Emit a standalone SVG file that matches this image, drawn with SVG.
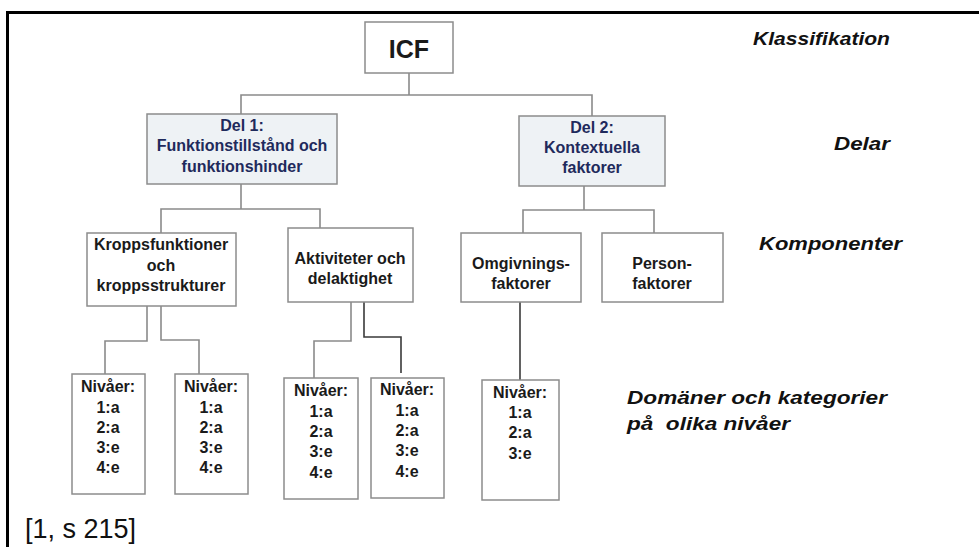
<svg xmlns="http://www.w3.org/2000/svg" width="979" height="547" viewBox="0 0 979 547">
<style>
.box{fill:#ffffff;stroke:#8c8c8c;stroke-width:1.5}
.del{fill:#eef2f5;stroke:#8c8c8c;stroke-width:1.5}
.t{font-family:"Liberation Sans",Arial,sans-serif;font-weight:bold;fill:#1a1a1a;text-anchor:middle}
.d{font-family:"Liberation Sans",Arial,sans-serif;font-weight:bold;fill:#1f2a5c;text-anchor:middle;font-size:16px}
.c{font-size:16px}
.n{font-size:16px}
.lab{font-family:"Liberation Sans",Arial,sans-serif;font-weight:bold;font-style:italic;fill:#111;font-size:19px;white-space:pre}
.ln{fill:none;stroke:#8a8a8a;stroke-width:1.6}
.dk{fill:none;stroke:#3a3a3a;stroke-width:1.6}
</style>
<rect width="979" height="547" fill="#ffffff"/>
<g id="frame">
<line x1="6" y1="12.5" x2="979" y2="12.5" stroke="#000" stroke-width="3"/>
<line x1="7.5" y1="11" x2="7.5" y2="547" stroke="#000" stroke-width="3"/>
</g>
<g id="connectors">
<polyline class="ln" points="409,73 409,95"/>
<polyline class="ln" points="241,114 241,95 592,95 592,116"/>
<polyline class="ln" points="241,184 241,209"/>
<polyline class="ln" points="161,233 161,209 320,209 320,228"/>
<polyline class="ln" points="584,186 584,210"/>
<polyline class="ln" points="523,233 523,210 654,210 654,233"/>
<polyline class="ln" points="147,306 147,341 105,341 105,374"/>
<polyline class="ln" points="161,306 161,340 199,340 199,374"/>
<polyline class="ln" points="351,302 351,341 314,341 314,378"/>
<polyline class="dk" points="364,302 364,337 401,337 401,373"/>
<polyline class="dk" points="520,302 520,380"/>
</g>
<g id="icf">
<rect class="box" x="365" y="22" width="88" height="51"/>
<text class="t" x="409" y="58" font-size="25">ICF</text>
</g>
<g id="del1">
<rect class="del" x="147" y="114" width="190" height="70"/>
<text class="d" x="242" y="131">Del 1:</text>
<text class="d" x="242" y="151">Funktionstillstånd och</text>
<text class="d" x="242" y="172">funktionshinder</text>
</g>
<g id="del2">
<rect class="del" x="519" y="116" width="146" height="70"/>
<text class="d" x="592" y="133">Del 2:</text>
<text class="d" x="592" y="153">Kontextuella</text>
<text class="d" x="592" y="173">faktorer</text>
</g>
<g id="kropps">
<rect class="box" x="87" y="233" width="149" height="73"/>
<text class="t c" x="161" y="250">Kroppsfunktioner</text>
<text class="t c" x="161" y="271">och</text>
<text class="t c" x="161" y="291">kroppsstrukturer</text>
</g>
<g id="aktiviteter">
<rect class="box" x="288" y="228" width="125" height="74"/>
<text class="t c" x="350" y="264">Aktiviteter och</text>
<text class="t c" x="350" y="284">delaktighet</text>
</g>
<g id="omgivning">
<rect class="box" x="461" y="233" width="120" height="69"/>
<text class="t c" x="521" y="269">Omgivnings-</text>
<text class="t c" x="521" y="289">faktorer</text>
</g>
<g id="person">
<rect class="box" x="602" y="233" width="121" height="69"/>
<text class="t c" x="662" y="269">Person-</text>
<text class="t c" x="662" y="289">faktorer</text>
</g>
<g id="niva1">
<rect class="box" x="72" y="374" width="73" height="120"/>
<text class="t n" x="108" y="392">Nivåer:</text>
<text class="t n" x="108" y="413">1:a</text>
<text class="t n" x="108" y="433">2:a</text>
<text class="t n" x="108" y="453">3:e</text>
<text class="t n" x="108" y="473">4:e</text>
</g>
<g id="niva2">
<rect class="box" x="175" y="374" width="73" height="120"/>
<text class="t n" x="211" y="392">Nivåer:</text>
<text class="t n" x="211" y="413">1:a</text>
<text class="t n" x="211" y="433">2:a</text>
<text class="t n" x="211" y="453">3:e</text>
<text class="t n" x="211" y="473">4:e</text>
</g>
<g id="niva3">
<rect class="box" x="284" y="378" width="74" height="121"/>
<text class="t n" x="321" y="396">Nivåer:</text>
<text class="t n" x="321" y="417">1:a</text>
<text class="t n" x="321" y="437">2:a</text>
<text class="t n" x="321" y="457">3:e</text>
<text class="t n" x="321" y="478">4:e</text>
</g>
<g id="niva4">
<rect class="box" x="371" y="378" width="73" height="120"/>
<text class="t n" x="407" y="395">Nivåer:</text>
<text class="t n" x="407" y="416">1:a</text>
<text class="t n" x="407" y="436">2:a</text>
<text class="t n" x="407" y="456">3:e</text>
<text class="t n" x="407" y="477">4:e</text>
</g>
<g id="niva5">
<rect class="box" x="482" y="380" width="77" height="120"/>
<text class="t n" x="520" y="398">Nivåer:</text>
<text class="t n" x="520" y="418">1:a</text>
<text class="t n" x="520" y="438">2:a</text>
<text class="t n" x="520" y="459">3:e</text>
</g>
<g id="labels">
<text class="lab" x="753" y="45" textLength="137" lengthAdjust="spacingAndGlyphs">Klassifikation</text>
<text class="lab" x="834" y="150" textLength="56" lengthAdjust="spacingAndGlyphs">Delar</text>
<text class="lab" x="759" y="250" textLength="143" lengthAdjust="spacingAndGlyphs">Komponenter</text>
<text class="lab" x="627" y="404" textLength="260" lengthAdjust="spacingAndGlyphs">Domäner och kategorier</text>
<text class="lab" x="627" y="430" textLength="163" lengthAdjust="spacingAndGlyphs" xml:space="preserve">på  olika nivåer</text>
</g>
<text x="25" y="538" font-family="Liberation Sans, Arial, sans-serif" font-size="27" fill="#111">[1, s 215]</text>
</svg>
